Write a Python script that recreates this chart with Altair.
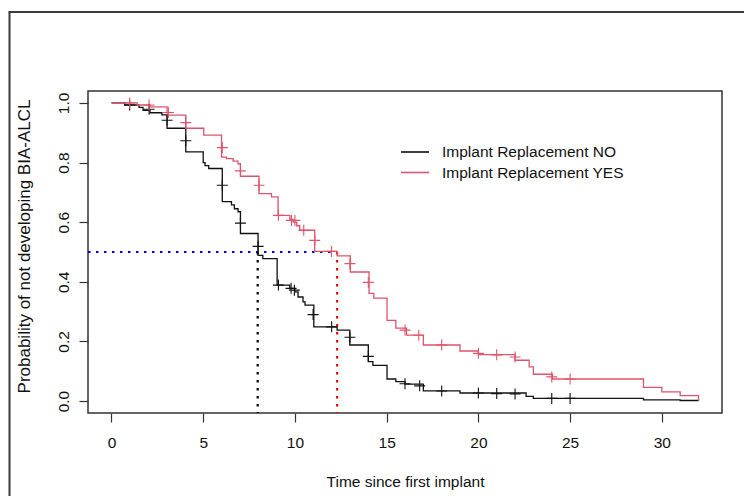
import altair as alt
import pandas as pd

# ---- data ----
groups = ["Implant Replacement NO", "Implant Replacement YES"]

no_t = [0, 0.72, 1.5, 1.72, 2.1, 2.75, 3.03, 4.05, 5.0, 5.1, 5.3, 6.04, 6.54, 6.7, 6.9, 7.03,
        7.99, 8.25, 9.03, 9.72, 9.99, 10.17, 10.44, 10.55, 11.03, 12.3, 12.99, 14.0, 14.25,
        15.02, 15.5, 16.0, 17.0, 19.0, 22.6, 23.0, 29.0, 31.0, 32.0]
no_s = [1.0, 0.993, 0.985, 0.975, 0.967, 0.96, 0.915, 0.836, 0.80, 0.79, 0.78, 0.669, 0.658,
        0.645, 0.635, 0.562, 0.489, 0.478, 0.389, 0.378, 0.366, 0.349, 0.333, 0.322, 0.249,
        0.238, 0.188, 0.132, 0.12, 0.074, 0.065, 0.057, 0.034, 0.027, 0.016, 0.009, 0.004,
        0.002, 0.0]

yes_t = [0, 1.4, 2.1, 3.03, 4.05, 5.03, 6.0, 6.26, 6.63, 6.9, 7.03, 8.04, 8.72, 9.08, 9.72,
         9.9, 10.1, 10.26, 11.08, 12.3, 13.02, 14.04, 14.3, 15.02, 15.5, 16.08, 17.0, 19.0,
         20.0, 22.0, 22.77, 23.0, 24.04, 29.0, 30.0, 31.0, 32.0]
yes_s = [1.0, 0.993, 0.987, 0.959, 0.915, 0.892, 0.818, 0.813, 0.805, 0.796, 0.754, 0.696,
         0.685, 0.623, 0.61, 0.60, 0.588, 0.573, 0.502, 0.487, 0.433, 0.361, 0.345, 0.271,
         0.245, 0.221, 0.188, 0.168, 0.156, 0.137, 0.115, 0.09, 0.074, 0.046, 0.031, 0.018, 0.0]

no_cens_t = [0.99, 2.05, 3.03, 4.05, 6.04, 7.03, 7.99, 9.1, 9.79, 9.97, 10.99, 12.0, 13.0,
             14.0, 16.0, 16.8, 18.0, 20.0, 21.0, 22.0, 24.0, 25.0]
no_cens_s = [0.993, 0.979, 0.942, 0.873, 0.724, 0.597, 0.519, 0.389, 0.378, 0.372, 0.29,
             0.249, 0.214, 0.15, 0.058, 0.051, 0.034, 0.027, 0.025, 0.024, 0.009, 0.009]

yes_cens_t = [0.99, 2.05, 3.1, 4.05, 6.04, 7.03, 8.04, 9.1, 9.81, 10.0, 10.48, 11.08, 11.99,
              13.0, 14.0, 16.0, 16.75, 18.0, 20.0, 21.0, 22.0, 24.0, 25.0]
yes_cens_s = [1.0, 0.993, 0.968, 0.934, 0.85, 0.772, 0.724, 0.623, 0.606, 0.606, 0.573,
              0.539, 0.502, 0.461, 0.398, 0.238, 0.221, 0.188, 0.16, 0.155, 0.148, 0.081, 0.074]

median_t = [7.97, 12.3]
median_s = 0.5

x_ticks = [0, 5, 10, 15, 20, 25, 30]
y_ticks = [0.0, 0.2, 0.4, 0.6, 0.8, 1.0]

# ---- tables ----
curves = pd.DataFrame({
    "t": no_t + yes_t,
    "s": no_s + yes_s,
    "group": [groups[0]] * len(no_t) + [groups[1]] * len(yes_t),
})
cens = pd.DataFrame({
    "t": no_cens_t + yes_cens_t,
    "s": no_cens_s + yes_cens_s,
    "group": [groups[0]] * len(no_cens_t) + [groups[1]] * len(yes_cens_t),
})

X_DOM = [-1.28, 33.28]
Y_DOM = [-0.04, 1.04]
W, H = 634, 322
PAD = {"left": 80, "top": 83, "right": 22, "bottom": 83}
FONT = "Liberation Sans"
FS = 15.5

xs = alt.Scale(domain=X_DOM, nice=False, zero=False)
ys = alt.Scale(domain=Y_DOM, nice=False, zero=False)
cs = alt.Scale(domain=groups, range=["#111111", "#DF536B"])

x_axis = alt.Axis(values=x_ticks, grid=False, domain=False, tickSize=9, tickWidth=1.2,
                  tickColor="#333333", labelFontSize=FS, labelFont=FONT, labelColor="#111111",
                  labelBaseline="alphabetic", labelPadding=25.5, labelFlush=False,
                  title="Time since first implant", titleFontSize=FS, titleFont=FONT,
                  titleFontWeight="normal", titleColor="#111111", titleBaseline="alphabetic",
                  titleAlign="center", titleX=W / 2, titleY=73)
y_axis = alt.Axis(values=y_ticks, format=".1f", grid=False, domain=False, tickSize=9,
                  tickWidth=1.2, tickColor="#333333", labelFontSize=FS, labelFont=FONT,
                  labelColor="#111111", labelAngle=270, labelAlign="center",
                  labelBaseline="alphabetic", labelPadding=10.5, labelFlush=False,
                  title="Probability of not developing BIA-ALCL", titleFontSize=17,
                  titleFont=FONT, titleFontWeight="normal", titleColor="#111111",
                  titleAngle=270, titleAlign="center", titleBaseline="alphabetic",
                  titleX=-59, titleY=H / 2 - 6)

legend = alt.Legend(orient="none", legendX=319, legendY=53, title=None,
                    symbolType="M-2,0H2", symbolSize=196, symbolStrokeWidth=1.6,
                    symbolFillColor="transparent", labelFontSize=FS, labelFont=FONT,
                    labelColor="#111111", labelOffset=19, labelLimit=0, rowPadding=3.5,
                    padding=0)

lines = alt.Chart(curves).mark_line(interpolate="step-after", strokeWidth=1.3).encode(
    x=alt.X("t:Q", scale=xs, axis=x_axis),
    y=alt.Y("s:Q", scale=ys, axis=y_axis),
    color=alt.Color("group:N", scale=cs, legend=legend),
    detail="group:N",
)

marks = alt.Chart(cens).mark_point(shape="M-1,0H1M0,-1V1", size=121, filled=False,
                                   strokeWidth=1.1, opacity=1).encode(
    x=alt.X("t:Q", scale=xs),
    y=alt.Y("s:Q", scale=ys),
    color=alt.Color("group:N", scale=cs, legend=None),
)

hline = alt.Chart(pd.DataFrame({"x": [X_DOM[0]], "x2": [median_t[1]], "y": [median_s]})).mark_rule(
    color="#0000FF", strokeWidth=2.2, strokeDash=[2.5, 5.5]).encode(
    x=alt.X("x:Q", scale=xs), x2="x2:Q", y=alt.Y("y:Q", scale=ys))

vlines = alt.Chart(pd.DataFrame({"x": median_t, "y": [median_s, median_s],
                                 "y2": [Y_DOM[0], Y_DOM[0]], "c": ["#000000", "#FF0000"]})).mark_rule(
    strokeWidth=2.2, strokeDash=[2.5, 5.5]).encode(
    x=alt.X("x:Q", scale=xs), y=alt.Y("y:Q", scale=ys), y2="y2:Q",
    color=alt.Color("c:N", scale=None))

dummy = pd.DataFrame({"d": [0]})
frame_left = alt.Chart(dummy).mark_rule(color="#3a3a3a", strokeWidth=2).encode(
    x=alt.value(-78.5), y=alt.value(-79), y2=alt.value(H + PAD["bottom"]))
frame_top = alt.Chart(dummy).mark_rule(color="#3a3a3a", strokeWidth=2).encode(
    x=alt.value(-79.5), x2=alt.value(W + PAD["right"]), y=alt.value(-79))

chart = alt.layer(frame_left, frame_top, hline, vlines, lines, marks).properties(
    width=W, height=H, padding=PAD,
    autosize=alt.AutoSizeParams(type="none"),
    background="white",
).configure_view(stroke="#333333", strokeWidth=1.5).resolve_scale(color="independent")

chart.save("out.html", embed_options={"renderer": "svg", "actions": False})
